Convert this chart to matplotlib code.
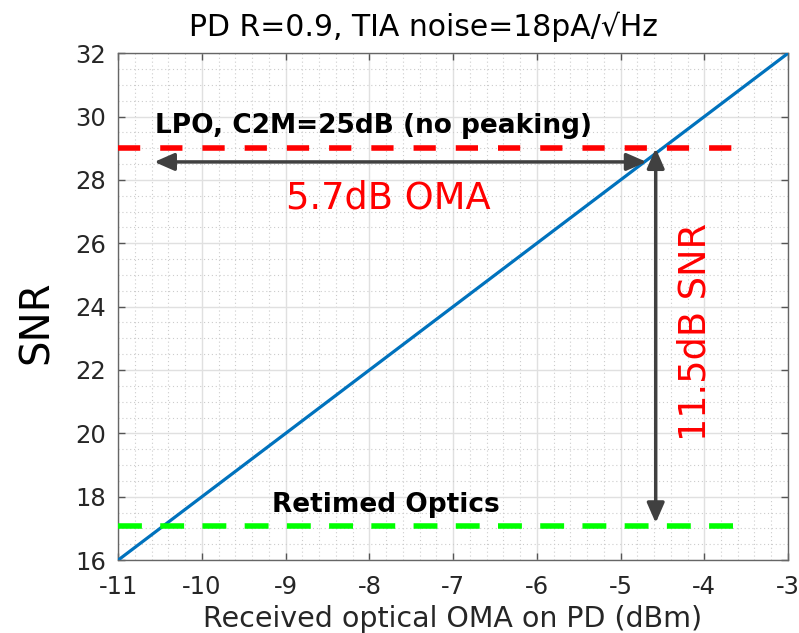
import matplotlib.pyplot as plt
from matplotlib.ticker import MultipleLocator
import numpy as np

# SNR vs received OMA (straight line, 2 dB SNR per dB OMA)
oma = [-11, -3]
snr = [16, 32]

# reference levels
snr_lpo = 29.0
snr_retimed = 17.07
ref_x = [-11, -3.65]

# arrows: OMA gap and SNR gap
oma_arrow_x = [-4.69, -10.57]
oma_arrow_y = 28.57
snr_arrow_x = -4.58
snr_arrow_y = [29.0, 17.17]

xticks = [-11, -10, -9, -8, -7, -6, -5, -4, -3]
yticks = [16, 18, 20, 22, 24, 26, 28, 30, 32]

fig = plt.figure(figsize=(7.99, 6.33), dpi=100)
ax = fig.add_axes([0.148, 0.1153, 0.8382, 0.8005])

ax.plot(oma, snr, color='#0072BD', lw=2.3, zorder=3)

ax.plot(ref_x, [snr_lpo, snr_lpo], color='#ff0000', lw=4,
        linestyle=(0, (4, 3.6)), zorder=4)
ax.plot(ref_x, [snr_retimed, snr_retimed], color='#00ff00', lw=4,
        linestyle=(0, (4.3, 3.3)), zorder=4)

arrow_kw = dict(arrowstyle='<|-|>,head_length=0.8,head_width=0.35',
                color='#404040', lw=2.5, shrinkA=0, shrinkB=0,
                mutation_scale=15)
ax.annotate('', xy=(oma_arrow_x[1], oma_arrow_y), xytext=(oma_arrow_x[0], oma_arrow_y),
            arrowprops=arrow_kw, zorder=5)
ax.annotate('', xy=(snr_arrow_x, snr_arrow_y[1]), xytext=(snr_arrow_x, snr_arrow_y[0]),
            arrowprops=arrow_kw, zorder=5)

ax.text(-10.56, 29.48, 'LPO, C2M=25dB (no peaking)', fontsize=19,
        fontweight='bold', ha='left', va='baseline', zorder=6)
ax.text(-7.77, 27.11, '5.7dB OMA', fontsize=26.5, color='#ff0000',
        ha='center', va='baseline', zorder=6)
ax.text(-3.99, 23.2, '11.5dB SNR', fontsize=26.5, color='#ff0000', rotation=90,
        rotation_mode='anchor', ha='center', va='baseline', zorder=6)
ax.text(-7.80, 17.53, 'Retimed Optics', fontsize=19, fontweight='bold',
        ha='center', va='baseline', zorder=6)

ax.set_xlim(-11, -3)
ax.set_ylim(16, 32)
ax.set_xticks(xticks)
ax.set_yticks(yticks)
ax.set_xticklabels([str(t) for t in xticks])
ax.set_yticklabels([str(t) for t in yticks])
ax.xaxis.set_minor_locator(MultipleLocator(0.2))
ax.yaxis.set_minor_locator(MultipleLocator(0.5))

ax.grid(which='major', color='#e0e0e0', lw=1, linestyle='-')
ax.grid(which='minor', color='#cccccc', lw=0.8, linestyle=(0, (1, 2.5)))
ax.set_axisbelow(True)

ax.tick_params(which='major', direction='in', length=5, width=1,
               top=True, right=True, colors='#555555', labelcolor='#262626',
               labelsize=17.5)
ax.tick_params(axis='x', which='major', pad=11)
ax.tick_params(axis='y', which='major', pad=9)
ax.tick_params(which='minor', length=0)
for s in ax.spines.values():
    s.set_color('#666666')
    s.set_linewidth(1)

fig.text(0.530, 0.943, 'PD R=0.9, TIA noise=18pA/\u221aHz', fontsize=21.5,
         ha='center', va='baseline')
fig.text(0.0605, 0.4905, 'SNR', fontsize=29, rotation=90,
         rotation_mode='anchor', ha='center', va='baseline')
fig.text(0.567, 0.0095, 'Received optical OMA on PD (dBm)', fontsize=20.5,
         color='#262626', ha='center', va='baseline')

fig.savefig('out.png', dpi=100)
